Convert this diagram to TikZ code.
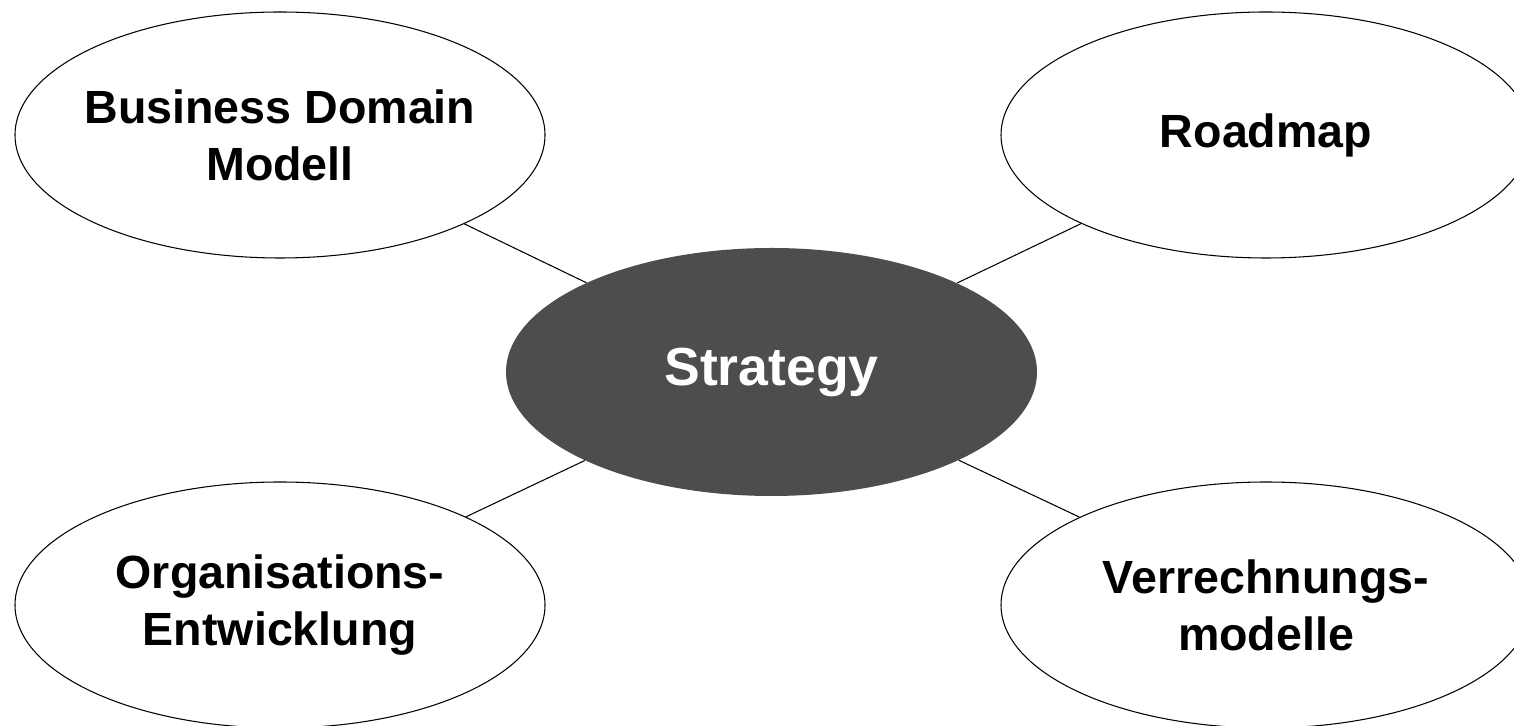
\documentclass[tikz,border=0pt]{standalone}
\usepackage{fontspec}
\setmainfont{Liberation Sans}
\usepackage{xcolor}
\usepackage{tikz}
\usetikzlibrary{shapes.geometric}

\definecolor{stratgray}{RGB}{77,77,77}

\tikzset{
    topic/.style={ellipse, draw, line width=0.6pt, fill=white,
        minimum width=10.6cm, minimum height=4.92cm,
        inner xsep=-0.6cm, inner ysep=0pt,
        align=center, font=\fontsize{26.5}{32.5}\selectfont\bfseries},
    core/.style={ellipse, fill=stratgray, text=white,
        minimum width=10.62cm, minimum height=4.96cm, inner sep=0pt,
        align=center, font=\fontsize{30.5}{34}\selectfont\bfseries},
}

\begin{document}
\begin{tikzpicture}
        \useasboundingbox (0,0) rectangle (30.28,14.52);

        \node[core] (strategy) at (15.43,7.08) {Strategy};

        \node[topic] (bdm)  at (5.6,11.82)  {Business Domain\\Modell};
        \node[topic] (road) at (25.32,11.82) {Roadmap};

        \node[topic] (orga) at (5.6,2.42)   {Organisations-\\Entwicklung};
        \node[topic] (verr) at (25.32,2.42) {Verrechnungs-\\modelle};

        \draw[-, line width=0.6pt] (bdm)  -- (strategy);
        \draw[-, line width=0.6pt] (road) -- (strategy);
        \draw[-, line width=0.6pt] (orga) -- (strategy);
        \draw[-, line width=0.6pt] (verr) -- (strategy);
    \end{tikzpicture}
\end{document}
